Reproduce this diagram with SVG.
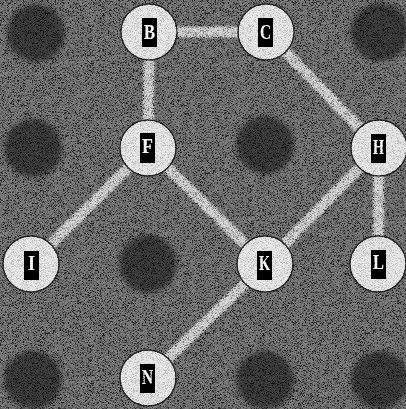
<svg xmlns="http://www.w3.org/2000/svg" width="406" height="409" viewBox="0 0 406 409">
<defs>
<filter id="grain" x="0" y="0" width="406" height="409" filterUnits="userSpaceOnUse">
<feTurbulence type="fractalNoise" baseFrequency="1.6" numOctaves="1" seed="7"/>
<feColorMatrix type="matrix" values="3.6 0 0 0 -1.3  3.6 0 0 0 -1.3  3.6 0 0 0 -1.3  0 0 0 0 1"/>
</filter>
<filter id="soft" x="-20%" y="-20%" width="140%" height="140%">
<feGaussianBlur stdDeviation="2.5"/>
</filter>
<filter id="fuzz" x="0" y="0" width="406" height="409" filterUnits="userSpaceOnUse">
<feGaussianBlur stdDeviation="1"/>
</filter>
</defs>
<style>
.hole{fill:#2c2c2c;filter:url(#soft)}
.edge{stroke:#b0b0b0;stroke-width:10;fill:none}
.node circle{fill:#d4d4d4;stroke:#1e1e1e;stroke-width:1.5}
.node rect{fill:#000}
.node text{font-family:"Liberation Serif","DejaVu Serif",serif;font-weight:bold;font-size:22px;fill:#f0f0f0;text-anchor:middle}
</style>
<rect width="406" height="409" fill="#535353"/>
<g id="holes">
<circle class="hole" cx="36" cy="33" r="29"/>
<circle class="hole" cx="380" cy="32" r="29"/>
<circle class="hole" cx="33" cy="148" r="29"/>
<circle class="hole" cx="265" cy="145" r="29"/>
<circle class="hole" cx="148" cy="264" r="29"/>
<circle class="hole" cx="33" cy="380" r="29"/>
<circle class="hole" cx="265" cy="380" r="29"/>
<circle class="hole" cx="380" cy="380" r="29"/>
</g>
<g id="connectors" filter="url(#fuzz)">
<line class="edge" x1="149" y1="32" x2="266" y2="32"/>
<line class="edge" x1="149" y1="32" x2="148" y2="148"/>
<line class="edge" x1="266" y1="32" x2="379" y2="148"/>
<line class="edge" x1="148" y1="148" x2="31" y2="264"/>
<line class="edge" x1="148" y1="148" x2="265" y2="264"/>
<line class="edge" x1="379" y1="148" x2="265" y2="264"/>
<line class="edge" x1="379" y1="148" x2="378" y2="264"/>
<line class="edge" x1="265" y1="264" x2="148" y2="378"/>
</g>
<g id="node-B" class="node"><circle cx="149" cy="32" r="28"/><rect x="142" y="18" width="15" height="29"/><text x="149.5" y="39" textLength="11" lengthAdjust="spacingAndGlyphs">B</text></g>
<g id="node-C" class="node"><circle cx="266" cy="32" r="28"/><rect x="258" y="18" width="15" height="29"/><text x="265.5" y="39" textLength="11" lengthAdjust="spacingAndGlyphs">C</text></g>
<g id="node-F" class="node"><circle cx="148" cy="148" r="28"/><rect x="140" y="133" width="15" height="30"/><text x="147.5" y="153" textLength="11" lengthAdjust="spacingAndGlyphs">F</text></g>
<g id="node-H" class="node"><circle cx="379" cy="148" r="28"/><rect x="371" y="134" width="15" height="29"/><text x="378.5" y="154" textLength="11" lengthAdjust="spacingAndGlyphs">H</text></g>
<g id="node-I" class="node"><circle cx="31" cy="264" r="28"/><rect x="24" y="251" width="15" height="29"/><text x="31.5" y="270" textLength="7" lengthAdjust="spacingAndGlyphs">I</text></g>
<g id="node-K" class="node"><circle cx="265" cy="264" r="28"/><rect x="257" y="251" width="15" height="29"/><text x="264.5" y="270" textLength="11" lengthAdjust="spacingAndGlyphs">K</text></g>
<g id="node-L" class="node"><circle cx="378" cy="264" r="28"/><rect x="371" y="250" width="15" height="29"/><text x="378.5" y="269" textLength="11" lengthAdjust="spacingAndGlyphs">L</text></g>
<g id="node-N" class="node"><circle cx="148" cy="378" r="28"/><rect x="140" y="364" width="15" height="29"/><text x="147.5" y="384" textLength="11" lengthAdjust="spacingAndGlyphs">N</text></g>
<rect width="406" height="409" filter="url(#grain)" style="mix-blend-mode:overlay" opacity="0.6"/>
</svg>
